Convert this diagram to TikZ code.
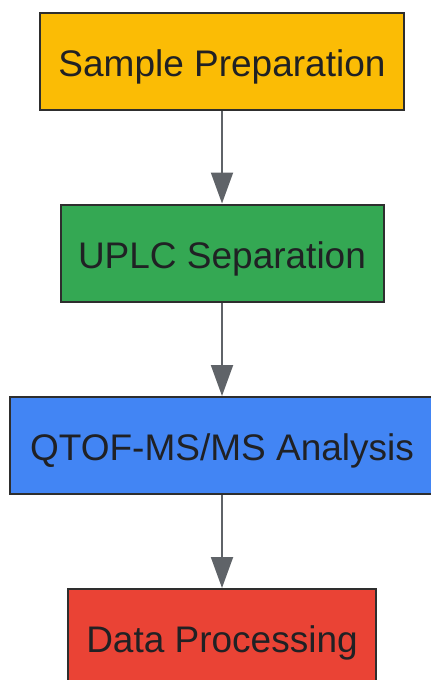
\documentclass[tikz,border=0pt]{standalone}
\usepackage{fontspec}
\setmainfont{Liberation Sans}
\usetikzlibrary{arrows.meta}
\definecolor{stepyellow}{HTML}{FBBC05}
\definecolor{stepgreen}{HTML}{34A853}
\definecolor{stepblue}{HTML}{4285F4}
\definecolor{stepred}{HTML}{EA4335}
\definecolor{steptext}{HTML}{202124}
\definecolor{stepedge}{HTML}{2E2E2E}
\definecolor{flowgray}{HTML}{5F6368}
\begin{document}
\begin{tikzpicture}[x=1pt, y=-1pt,
  stepbox/.style={draw=stepedge, line width=2pt, rectangle, inner sep=0pt,
    minimum height=97pt, text height=30pt, text depth=0pt, text=steptext,
    font=\fontsize{37}{44}\selectfont},
  flow/.style={draw=flowgray, line width=2pt, -{Triangle[length=31pt,width=22pt]}}]
\useasboundingbox (0,0) rectangle (431,680);
\node [stepbox, fill=stepyellow, minimum width=364pt] (prep) at (222,61.5) {Sample Preparation};
\node [stepbox, fill=stepgreen, minimum width=323pt] (uplc) at (222,253) {UPLC Separation};
\node [stepbox, fill=stepblue, minimum width=424pt] (qtof) at (222,445.5) {QTOF-MS/MS Analysis};
\node [stepbox, fill=stepred, minimum width=308pt] (data) at (222,637.5) {Data Processing};
\draw [flow] (prep) -- (uplc);
\draw [flow] (uplc) -- (qtof);
\draw [flow] (qtof) -- (data);
\end{tikzpicture}
\end{document}
